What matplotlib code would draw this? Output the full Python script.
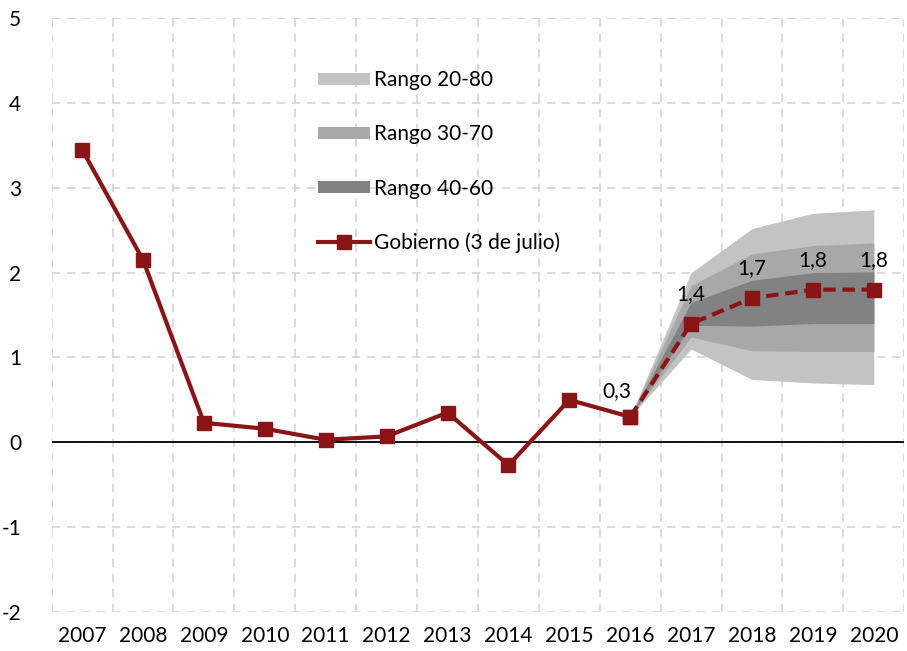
import numpy as np
import matplotlib
matplotlib.use("Agg")
import matplotlib.pyplot as plt
from matplotlib.ticker import MultipleLocator, FixedLocator

plt.rcParams['font.family'] = ['Lato', 'DejaVu Sans']

years = ['2007', '2008', '2009', '2010', '2011', '2012', '2013',
         '2014', '2015', '2016', '2017', '2018', '2019', '2020']
hist_vals = [3.45, 2.15, 0.23, 0.16, 0.03, 0.07, 0.35, -0.27, 0.50, 0.30]
proj_vals = [0.30, 1.40, 1.70, 1.80, 1.80]

# fan bands, 2016..2020
r2080_lo = [0.30, 1.10, 0.74, 0.70, 0.68]
r2080_hi = [0.30, 2.00, 2.52, 2.70, 2.74]
r3070_lo = [0.30, 1.24, 1.08, 1.07, 1.07]
r3070_hi = [0.30, 1.85, 2.22, 2.32, 2.35]
r4060_lo = [0.30, 1.38, 1.37, 1.40, 1.40]
r4060_hi = [0.30, 1.65, 1.91, 2.00, 2.01]

proj_labels = ['0,3', '1,4', '1,7', '1,8', '1,8']

red = '#8B1416'

fig = plt.figure(figsize=(9.07, 6.51), dpi=100)
ax = fig.add_axes([0.057, 0.060, 0.940, 0.912])

x = np.arange(len(years))
xh = x[:len(hist_vals)]
xp = x[len(hist_vals) - 1:]

ax.fill_between(xp, r2080_lo, r2080_hi, color='#C3C3C3', lw=0, label='Rango 20-80', zorder=2)
ax.fill_between(xp, r3070_lo, r3070_hi, color='#A8A8A8', lw=0, label='Rango 30-70', zorder=3)
ax.fill_between(xp, r4060_lo, r4060_hi, color='#828282', lw=0, label='Rango 40-60', zorder=4)

ax.axhline(0, color='black', lw=1.3, zorder=5)

ax.plot(xh, hist_vals, color=red, lw=3, marker='s', markersize=10,
        label='Gobierno (3 de julio)', zorder=6)
ax.plot(xp, proj_vals, color=red, lw=3, ls=(0, (3, 1.6)), marker='s',
        markersize=10, zorder=6)

offsets = [(-0.22, 0.30), (0.0, 0.35), (0.0, 0.35), (0.0, 0.35), (0.0, 0.35)]
for xi, yi, lab, (dx, dy) in zip(xp, proj_vals, proj_labels, offsets):
    ax.text(xi + dx, yi + dy, lab, ha='center', va='center', fontsize=15, zorder=7)

ax.set_xlim(-0.5, len(years) - 0.5)
ax.set_ylim(-2, 5)
ax.set_xticks(x)
ax.set_xticklabels(years, fontsize=15)
ax.set_yticks(range(-2, 6))
ax.set_yticklabels([str(v) for v in range(-2, 6)], fontsize=15)
ax.xaxis.set_minor_locator(FixedLocator(np.arange(-0.5, len(years), 1.0)))
ax.tick_params(which='both', length=0)
ax.tick_params(axis='y', pad=22)
ax.tick_params(axis='x', pad=10)
ax.grid(which='major', axis='y', color='#D4D4D4', ls=(0, (5, 4)), lw=1.2)
ax.grid(which='minor', axis='x', color='#D4D4D4', ls=(0, (5, 4)), lw=1.2)
for s in ax.spines.values():
    s.set_visible(False)

ax.legend(loc='upper left', bbox_to_anchor=(0.29, 0.944), frameon=False,
          fontsize=15, handlelength=2.5, handleheight=0.55, handletextpad=0.2,
          labelspacing=1.64)

fig.savefig('out.png', dpi=100)
